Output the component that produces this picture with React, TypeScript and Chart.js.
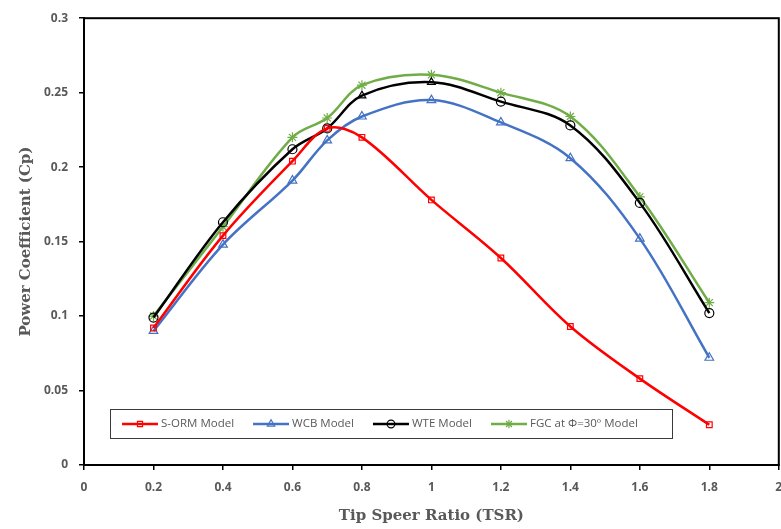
import React, { useEffect, useRef } from "react";
import { Chart, registerables } from "chart.js";

Chart.register(...registerables);

const tsr = [0.2, 0.4, 0.6, 0.7, 0.8, 1.0, 1.2, 1.4, 1.6, 1.8];
const sormCp = [0.092, 0.154, 0.204, 0.226, 0.22, 0.178, 0.139, 0.093, 0.058, 0.027];
const wcbCp = [0.09, 0.148, 0.191, 0.218, 0.234, 0.245, 0.23, 0.206, 0.152, 0.072];
const wteCp = [0.099, 0.163, 0.212, 0.226, 0.248, 0.257, 0.244, 0.228, 0.176, 0.102];
const fgcCp = [0.1, 0.16, 0.22, 0.233, 0.255, 0.262, 0.25, 0.234, 0.18, 0.109];
const wteMarkers = ["circle", "circle", "circle", "circle", "triangle", "triangle", "circle", "circle", "circle", "circle"];
const seriesNames = ["S-ORM Model", "WCB Model", "WTE Model", "FGC at Φ=30º Model"];
const xTicksMin = 0, xTicksMax = 2, xStep = 0.2;
const yTicksMin = 0, yTicksMax = 0.3, yStep = 0.05;

const toPts = (ys: number[]) => ys.map((y, i) => ({ x: tsr[i], y }));

function marker(ctx: CanvasRenderingContext2D, style: string, x: number, y: number, r: number) {
  ctx.beginPath();
  if (style === "rect") {
    const s = r * 1.5;
    ctx.rect(x - s / 2, y - s / 2, s, s);
  } else if (style === "triangle") {
    ctx.moveTo(x, y - r);
    ctx.lineTo(x + r * 0.87, y + r * 0.5);
    ctx.lineTo(x - r * 0.87, y + r * 0.5);
    ctx.closePath();
  } else if (style === "circle") {
    ctx.arc(x, y, r, 0, Math.PI * 2);
  } else {
    ctx.moveTo(x, y - r); ctx.lineTo(x, y + r);
    const d = r * 0.7;
    ctx.moveTo(x - d, y - d); ctx.lineTo(x + d, y + d);
    ctx.moveTo(x - d, y + d); ctx.lineTo(x + d, y - d);
  }
  ctx.stroke();
}

const frameAndLegend = {
  id: "frameAndLegend",
  afterDraw(chart: any) {
    const { ctx, chartArea } = chart;
    ctx.save();
    ctx.strokeStyle = "#000";
    ctx.lineWidth = 2;
    ctx.strokeRect(chartArea.left, chartArea.top, chartArea.right - chartArea.left, chartArea.bottom - chartArea.top);

    const bx = 110, by = 409, bw = 562, bh = 29;
    ctx.fillStyle = "#fff";
    ctx.fillRect(bx, by, bw, bh);
    ctx.strokeStyle = "#3a3a3a";
    ctx.lineWidth = 1;
    ctx.strokeRect(bx + 0.5, by + 0.5, bw, bh);
    ctx.font = '11.5px "Open Sans", sans-serif';
    ctx.textBaseline = "middle";
    const cy = by + bh / 2 + 0.5;
    let x = bx + 12;
    chart.data.datasets.forEach((ds: any) => {
      const lineLen = 36;
      ctx.strokeStyle = ds.borderColor;
      ctx.lineWidth = ds.borderWidth;
      ctx.beginPath();
      ctx.moveTo(x, cy);
      ctx.lineTo(x + lineLen, cy);
      ctx.stroke();
      const ps = Array.isArray(ds.pointStyle) ? ds.pointStyle[0] : ds.pointStyle;
      ctx.lineWidth = 1.2;
      marker(ctx, ps, x + lineLen / 2, cy, ds.pointRadius * 0.85);
      ctx.fillStyle = "#595959";
      ctx.textAlign = "left";
      ctx.fillText(ds.label, x + lineLen + 3, cy);
      x += lineLen + 3 + ctx.measureText(ds.label).width + 19;
    });
    ctx.restore();
  },
};

export default function App() {
  const ref = useRef<HTMLCanvasElement>(null);
  useEffect(() => {
    document.body.style.margin = "0";
    const mk = (label: string, data: number[], color: string, style: any, r: number) => ({
      label,
      data: toPts(data),
      borderColor: color,
      backgroundColor: "rgba(0,0,0,0)",
      pointBorderColor: color,
      pointBackgroundColor: "rgba(0,0,0,0)",
      pointStyle: style,
      pointRadius: r,
      pointBorderWidth: 1.2,
      borderWidth: 2.5,
      tension: 0.35,
      fill: false,
    });
    const chart = new Chart(ref.current!, {
      type: "line",
      data: {
        datasets: [
          mk(seriesNames[0], sormCp, "#FF0000", "rect", 4),
          mk(seriesNames[1], wcbCp, "#4472C4", "triangle", 5),
          mk(seriesNames[2], wteCp, "#000000", wteMarkers, 4.5),
          mk(seriesNames[3], fgcCp, "#70AD47", "star", 5),
        ],
      },
      options: {
        responsive: false,
        animation: false,
        layout: { padding: { top: 17, right: 0, left: 0, bottom: 0 } },
        plugins: { legend: { display: false }, tooltip: { enabled: false } },
        scales: {
          x: {
            type: "linear",
            min: xTicksMin,
            max: xTicksMax,
            ticks: {
              stepSize: xStep,
              color: "#595959",
              font: { family: '"Open Sans", sans-serif', size: 12, weight: "bold" },
              padding: 10,
              maxRotation: 0,
              callback: (v: any) => String(parseFloat(Number(v).toFixed(2))),
            },
            grid: { drawOnChartArea: false, drawTicks: true, tickLength: 5, color: "#000", lineWidth: 1.5 },
            border: { color: "#000", width: 2 },
            title: {
              display: true,
              text: "Tip Speer Ratio (TSR)",
              color: "#595959",
              font: { family: '"DejaVu Serif", serif', size: 15, weight: "bold" },
              padding: { top: 10, bottom: 4 },
            },
            afterFit: (s: any) => { s.height = 64; s.paddingRight = 0; s.paddingLeft = 0; },
          },
          y: {
            min: yTicksMin,
            max: yTicksMax,
            ticks: {
              stepSize: yStep,
              color: "#595959",
              font: { family: '"Open Sans", sans-serif', size: 12, weight: "bold" },
              padding: 11,
              callback: (v: any) => String(parseFloat(Number(v).toFixed(2))),
            },
            grid: { drawOnChartArea: false, drawTicks: true, tickLength: 5, color: "#000", lineWidth: 1.5 },
            border: { color: "#000", width: 2 },
            title: {
              display: true,
              text: "Power Coefficient (Cp)",
              color: "#595959",
              font: { family: '"DejaVu Serif", serif', size: 15, weight: "bold" },
              padding: { top: 17, bottom: 0 },
            },
            afterFit: (s: any) => { s.width = 84; },
          },
        },
      },
      plugins: [frameAndLegend],
    } as any);
    return () => chart.destroy();
  }, []);
  return (
    <div style={{ width: 781, height: 529, overflow: "hidden" }}>
      <canvas ref={ref} width={785} height={529} style={{ display: "block" }} />
    </div>
  );
}
